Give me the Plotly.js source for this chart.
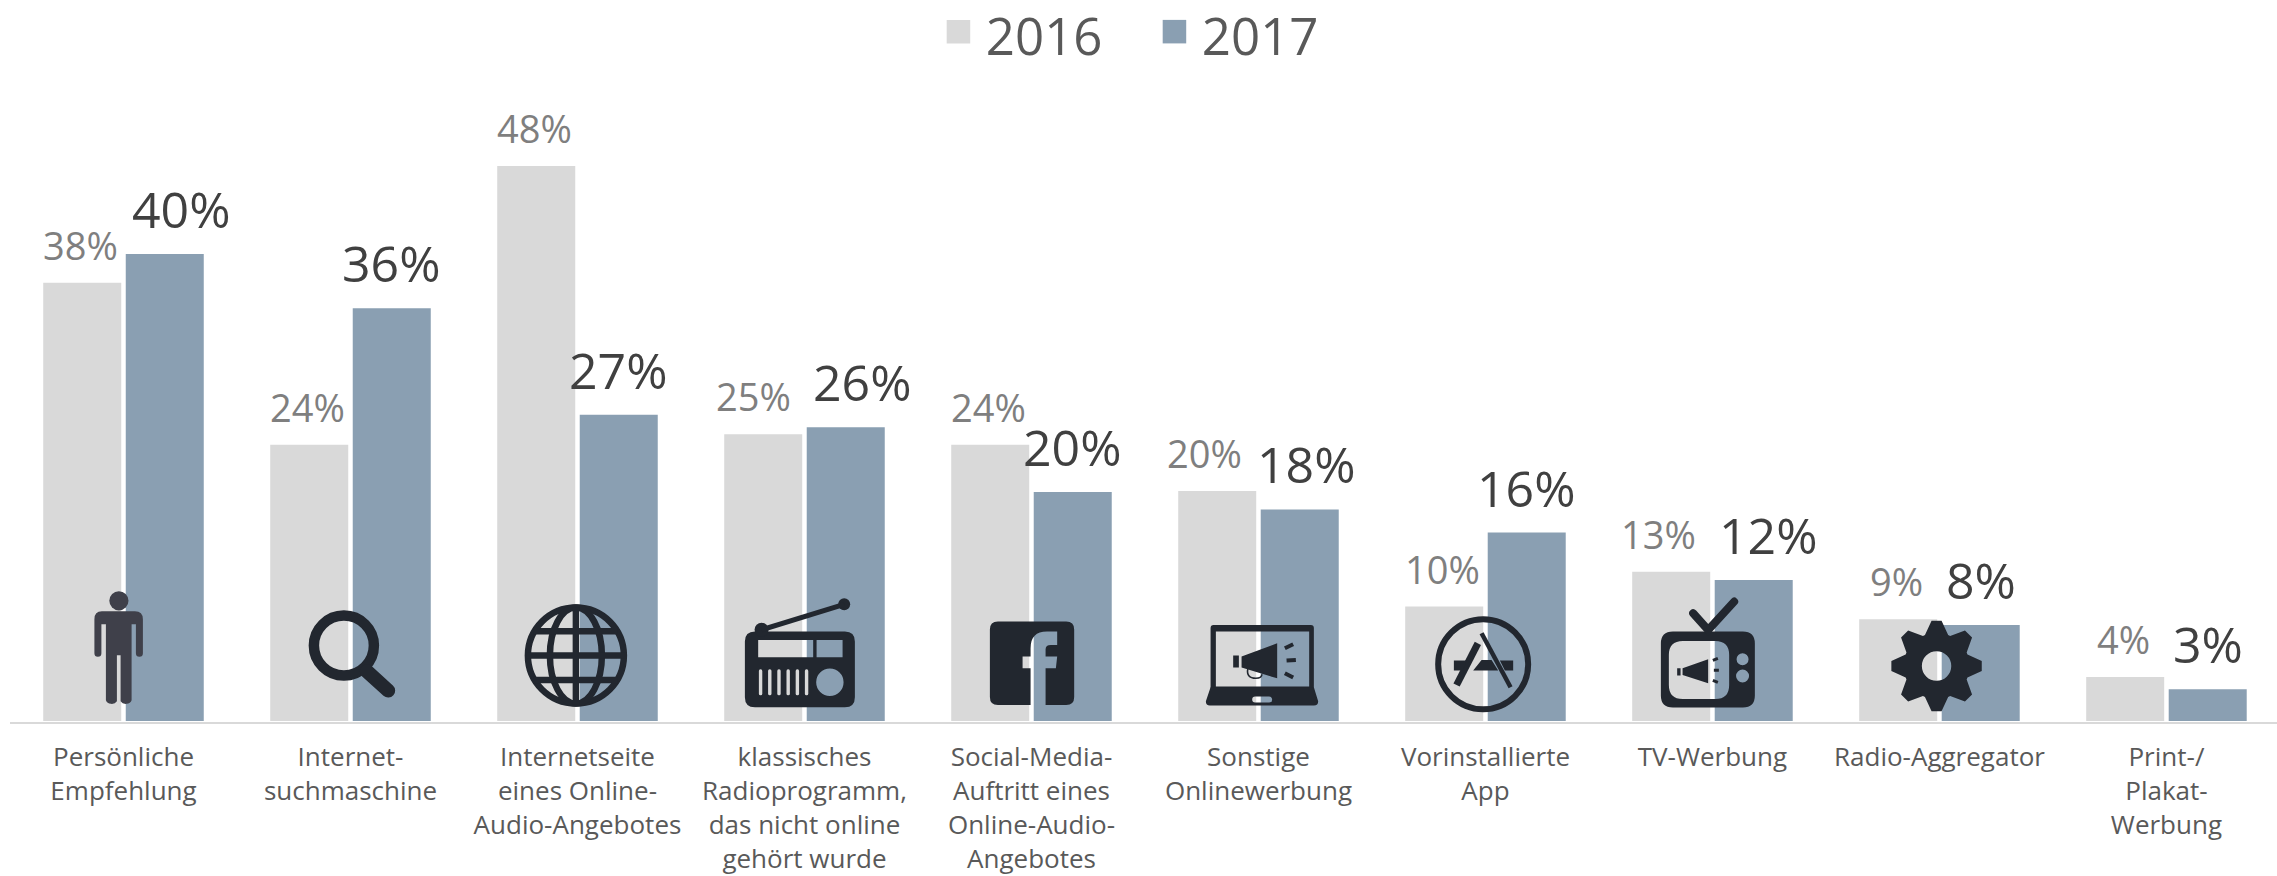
<!DOCTYPE html>
<html><head><meta charset="utf-8">
<script src="https://cdn.plot.ly/plotly-3.0.1.min.js"></script>
<style>html,body{margin:0;padding:0;background:#fff;overflow:hidden}#c{width:2277px;height:876px}</style>
</head><body><div id="c"></div>
<script>
const categories = ["Persönliche<br>Empfehlung","Internet-<br>suchmaschine","Internetseite<br>eines Online-<br>Audio-Angebotes","klassisches<br>Radioprogramm,<br>das nicht online<br>gehört wurde","Social-Media-<br>Auftritt eines<br>Online-Audio-<br>Angebotes","Sonstige<br>Onlinewerbung","Vorinstallierte<br>App","TV-Werbung","Radio-Aggregator","Print-/<br>Plakat-<br>Werbung"];
const values2016 = [37.9,23.9,48,24.8,23.9,19.9,9.9,12.9,8.8,3.8];
const values2017 = [40.4,35.7,26.5,25.4,19.8,18.3,16.3,12.2,8.3,2.75];
const labels2016 = ["38%","24%","48%","25%","24%","20%","10%","13%","9%","4%"];
const labels2017 = ["40%","36%","27%","26%","20%","18%","16%","12%","8%","3%"];
const shift2016 = [-1.5,-1.5,-1.5,-10,-1.5,-13,-1.5,-13,-1.5,-1.5];
const shift2017 = [17,0,0,17,0,7,0,15,0,0];
const FONT = '"Open Sans", sans-serif';
const idx = categories.map((_,i)=>i);
const PXX = 227, PXY = 11.56;

const D = '#22272f';
function circ(cx,cy,r){return `M${cx-r},${cy}a${r},${r} 0 1,0 ${2*r},0a${r},${r} 0 1,0 ${-2*r},0Z`;}
function rr(x0,y0,x1,y1,r){return `M${x0+r},${y0}H${x1-r}Q${x1},${y0} ${x1},${y0+r}V${y1-r}Q${x1},${y1} ${x1-r},${y1}H${x0+r}Q${x0},${y1} ${x0},${y1-r}V${y0+r}Q${x0},${y0} ${x0+r},${y0}Z`;}
function gear(cx,cy){let d='';for(let k=0;k<8;k++){const a=k*Math.PI/4-Math.PI/2;const p=(r,t)=>`${(cx+r*Math.cos(a+t)).toFixed(1)},${(cy+r*Math.sin(a+t)).toFixed(1)}`;
 d+=(k?'L':'M')+p(33,-0.36)+'L'+p(45.5,-0.11)+'L'+p(45.5,0.11)+'L'+p(33,0.36);}return d+'Z'+circ(cx,cy,14.7);}
function slits(){let s='';for(let k=0;k<6;k++){s+=`<rect x="${759+9.2*k}" y="671" width="3.4" height="26" rx="1.6" fill="#d9d9d9"/>`;}return s;}
const icons = [
 `<g fill="#3f404a"><circle cx="119" cy="602.5" r="9.6"/><path d="M102,613H135Q143,613 143,621V655a3.5,3.5 0 0 1 -7,0V626H131.7V702a6,5 0 0 1 -11,1V657H117V703a6,5 0 0 1 -11,-1V626H101.5V655a3.5,3.5 0 0 1 -7,0V621Q94.5,613 102,613Z"/></g>`,
 `<g fill="none" stroke="${D}"><circle cx="344" cy="647.3" r="30" stroke-width="10.5"/><path d="M367,673L388.3,692.3" stroke-width="14" stroke-linecap="round"/></g>`,
 `<g fill="none" stroke="${D}" stroke-width="6.5"><circle cx="576" cy="657.3" r="48"/><ellipse cx="576" cy="657.3" rx="26" ry="48"/><path d="M576,609V706M527,657.3H625M534,633H618M534,681.6H618"/></g>`,
 `<g fill="${D}"><path fill-rule="evenodd" d="${rr(745,633.3,855,709,10)}M758.3,641.7H813.3V659H758.3ZM816.7,641.7H842.7V659H816.7Z${circ(830,684,13.7)}"/><circle cx="761.7" cy="631.5" r="7"/><circle cx="844.3" cy="606" r="6"/><path d="M761.7,631.5L844.3,606" stroke="${D}" stroke-width="5"/>${slits()}</g>`,
 `<path fill="${D}" fill-rule="evenodd" d="${rr(990,623.3,1074.3,706.7,8)}M1045.7,706.7V670H1056L1057.3,658.3H1045.7V651Q1045.7,646.7 1051,646.7H1057.3V633.3H1047Q1030.7,633.3 1030.7,650V658.3H1022.7V670H1030.7V706.7Z"/>`,
 `<g fill="${D}"><path fill-rule="evenodd" d="${rr(1210.7,626.7,1314,692,3)}M1216,633.3H1309.3V688.3H1216Z"/><path fill-rule="evenodd" d="M1210.7,689H1314L1318.3,703Q1318.3,707.3 1314,707.3H1210Q1206,707.3 1206,703Z${rr(1252.3,698.3,1272.3,704.3,3)}"/><path d="M1241.7,658.3L1277.3,645V680L1241.7,669.3ZM1233.3,657.3H1239V669.3H1233.3Z"/><path d="M1285,650L1293.3,646M1286.7,662.3L1296,661.7M1285,675L1293.3,679.3" stroke="${D}" stroke-width="4"/><path d="M1248,670Q1246,680 1256,680Q1262,680 1262,676" fill="none" stroke="${D}" stroke-width="1.6"/></g>`,
 `<g fill="${D}"><circle cx="1483.3" cy="666" r="45" fill="none" stroke="${D}" stroke-width="6"/><path d="M1478,645L1456.7,686.7" stroke="${D}" stroke-width="7"/><path d="M1481.7,635L1510.7,689" stroke="${D}" stroke-width="4.5"/><path d="M1454,662.3H1466.7L1463,672.3H1454ZM1481.7,661.7H1491.7L1498.3,672.3H1473.3ZM1500,662.3H1513.3V672.3H1505Z"/></g>`,
 `<g fill="${D}"><path fill-rule="evenodd" d="${rr(1661,633.3,1755,709.3,12)}${rr(1669,642.7,1729.3,700.7,14)}${circ(1742.7,661,6)}${circ(1742.7,677.7,6.5)}"/><path d="M1693.3,615L1708.3,631.7L1734.3,603.3" fill="none" stroke="${D}" stroke-width="8" stroke-linecap="round"/><path d="M1682.7,670L1708.3,661V685L1682.7,676.7ZM1677.3,670H1680.7V677.3H1677.3Z"/><path d="M1713,662L1718,660M1714,672H1719M1713,682L1718,684" stroke="${D}" stroke-width="3"/></g>`,
 `<path fill="${D}" fill-rule="evenodd" d="${gear(1936.7,667.7)}"/>`
];
const images = icons.map((g,i)=>{
  const cx = 123.6 + PXX*i, top = 581.7, w = 140, h = 140;
  const svg = `<svg xmlns="http://www.w3.org/2000/svg" width="${w}" height="${h}" viewBox="${cx-w/2} ${top} ${w} ${h}">${g}</svg>`;
  return {source:'data:image/svg+xml;charset=utf-8,'+encodeURIComponent(svg), xref:'x', yref:'y', x:i, y:0.087, xanchor:'center', yanchor:'bottom', sizex:w/PXX, sizey:h/PXY, sizing:'stretch', layer:'above'};
});
const ann = (vals,labs,shift,size,color,ys)=>vals.map((v,i)=>({x:i+(labs===labels2016?-0.1817:0.1817),y:v,text:labs[i],xref:'x',yref:'y',xanchor:'center',yanchor:'bottom',showarrow:false,xshift:shift[i],yshift:ys,font:{family:FONT,size,color}}));
const traces = [
 {type:'bar',name:'2016',x:idx,y:values2016,marker:{color:'#d9d9d9'},hoverinfo:'x+y'},
 {type:'bar',name:'2017',x:idx,y:values2017,marker:{color:'#8a9fb2'},hoverinfo:'x+y'}
];
const layout = {
 width:2277,height:876,paper_bgcolor:'#fff',plot_bgcolor:'#fff',
 margin:{l:10,r:0,t:30,b:154,autoexpand:false},
 barmode:'group',bargap:0.273,bargroupgap:0.0545,
 font:{family:FONT,color:'#595959'},
 showlegend:true,
 legend:{orientation:'h',xref:'container',yref:'container',x:0.411,y:1,xanchor:'left',yanchor:'top',font:{family:FONT,size:51,color:'#595959'},itemwidth:40,bgcolor:'rgba(0,0,0,0)',entrywidth:161,entrywidthmode:'pixels',itemclick:false,itemdoubleclick:false},
 xaxis:{range:[-0.5,9.487],tickmode:'array',tickvals:idx,ticktext:categories,tickangle:0,showgrid:false,zeroline:false,showline:true,linecolor:'#d9d9d9',linewidth:2,ticks:'outside',ticklen:11,tickcolor:'rgba(0,0,0,0)',tickfont:{family:FONT,size:26,color:'#595959'},automargin:false,fixedrange:true},
 yaxis:{range:[-0.087,59.77],visible:false,showgrid:false,zeroline:false,fixedrange:true,automargin:false},
 annotations:[...ann(values2016,labels2016,shift2016,38,'#7f7f7f',10),...ann(values2017,labels2017,shift2017,50,'#404040',9)],
 images
};
Plotly.newPlot('c',traces,layout,{displayModeBar:false}).then(gd=>{
  const leg = gd.querySelector('g.legend') || gd.querySelector('.legend');
  if(!leg) return;
  leg.querySelectorAll('.legendpoints path').forEach(p=>{
    const t=p.getAttribute('transform')||'';
    p.setAttribute('transform',t+' translate(-2.4,-3) scale(1.96)');
  });
  const m=(leg.getAttribute('transform')||'').match(/translate\(([-\d.]+)[ ,]+([-\d.]+)\)/);
  if(m) leg.setAttribute('transform',`translate(${m[1]},${parseFloat(m[2])-5})`);
});
</script></body></html>
